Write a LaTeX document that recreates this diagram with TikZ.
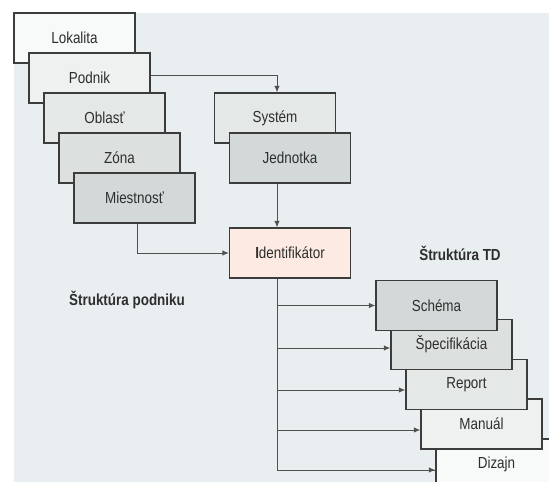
\documentclass[tikz,border=0pt]{standalone}
\usepackage{fontspec}
\setmainfont{Liberation Sans}[FakeStretch=0.84]
\usepackage{tikz}
\usetikzlibrary{arrows.meta}

\definecolor{pozadie}{HTML}{E9EEF1}
\definecolor{tonA}{HTML}{F8F9F9}
\definecolor{tonB}{HTML}{EEF1F0}
\definecolor{tonC}{HTML}{E4E8E7}
\definecolor{tonD}{HTML}{DCE1E0}
\definecolor{tonE}{HTML}{D3D9D8}
\definecolor{idfarba}{HTML}{FDEBE3}
\definecolor{ciara}{HTML}{3C3C3C}
\definecolor{text}{HTML}{2E2E2E}

\tikzset{
	krabica/.style={draw=ciara, line width=1.3pt, minimum width=121pt, minimum height=50pt,
		inner sep=0pt, text=text, font=\fontsize{16}{19}\selectfont},
	spoj/.style={draw=ciara!90, line width=0.9pt},
	nadpis/.style={text=text, font=\fontsize{16}{19}\selectfont\bfseries}
}

\begin{document}
\begin{tikzpicture}[x=1pt,y=-1pt,>={Latex[length=6.5pt,width=5.5pt]}]
		\useasboundingbox (0,0) rectangle (549,482);
		\clip (0,0) rectangle (549,482);
		% Pozadie
		\fill [pozadie] (14,13) rectangle (560,490);
		
		% Struktura podniku
		\node [krabica, fill=tonA] (lokalita) at (74.5,38) {Lokalita};
		\node [krabica, fill=tonB] (podnik) at (89.5,78) {Podnik};
		\node [krabica, fill=tonC] (oblast) at (104.5,118) {Oblasť};
		\node [krabica, fill=tonD] (zona) at (119.5,158) {Zóna};
		\node [krabica, fill=tonE] (miestnost) at (134.5,198) {Miestnosť};
		\node [nadpis] (npodnik) at (127,300) {Štruktúra podniku};
		
		% System
		\node [krabica, fill=tonC] (system) at (275,118) {Systém};
		\node [krabica, fill=tonE] (jednotka) at (290,158) {Jednotka};
		
		% Identifikator
		\node [krabica, fill=idfarba] (ident) at (290,253) {\textbf{I}dentifikátor};
		
		% Struktura TD
		\node [krabica, fill=tonA] (dizajn) at (496.5,464) {Dizajn};
		\node [krabica, fill=tonB] (manual) at (481.5,424) {Manuál};
		\node [krabica, fill=tonC] (report) at (466.5,384.5) {Report};
		\node [krabica, fill=tonD] (specif) at (451.5,344.5) {Špecifikácia};
		\node [krabica, fill=tonE] (schema) at (436.5,305.5) {Schéma};
		\node [nadpis] (ntd) at (460,253) {Štruktúra TD};
		
		% Spoje
		\draw [spoj,->] ([yshift=3pt]podnik.east) -| ([xshift=2pt]system.north);
		\draw [spoj,->] ([xshift=-13pt]jednotka.south) -- ([xshift=-13pt]ident.north);
		\draw [spoj,->] ([xshift=2.5pt]miestnost.south) |- (ident.west);
		\coordinate (kmen) at ([xshift=-13pt]ident.south);
		\draw [spoj] (kmen) |- ([yshift=-6pt]dizajn.west);
		\draw [spoj,->] (kmen) |- (schema.west);
		\draw [spoj,->] (kmen) |- ([yshift=-3.5pt]specif.west);
		\draw [spoj,->] (kmen) |- ([yshift=-5.5pt]report.west);
		\draw [spoj,->] (kmen) |- ([yshift=-6pt]manual.west);
		\draw [spoj,->] (kmen) |- ([yshift=-6pt]dizajn.west);
	\end{tikzpicture}
\end{document}
